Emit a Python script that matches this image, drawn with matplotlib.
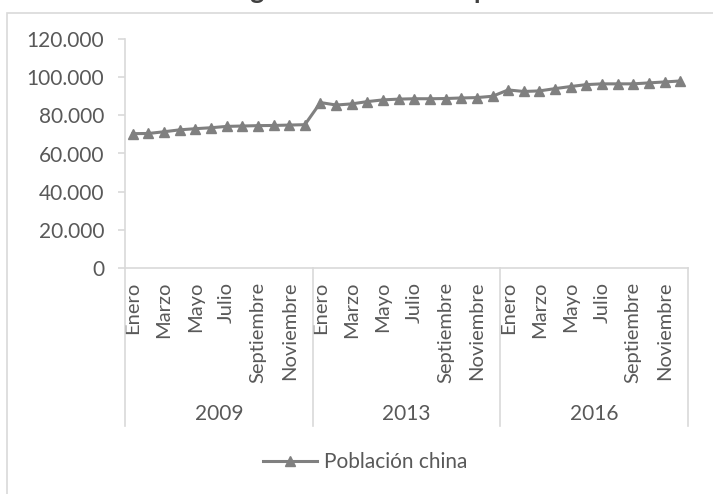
import matplotlib.pyplot as plt
import matplotlib.transforms as mtransforms
from matplotlib.patches import Rectangle

plt.rcParams['font.family'] = ['Lato', 'DejaVu Sans']

years = ['2009', '2013', '2016']
months = ['Enero', 'Febrero', 'Marzo', 'Abril', 'Mayo', 'Junio', 'Julio',
          'Agosto', 'Septiembre', 'Octubre', 'Noviembre', 'Diciembre']
pop_2009 = [70400, 70500, 71400, 72400, 73000, 73500, 74200, 74400, 74600, 74700, 74900, 75100]
pop_2013 = [86700, 85400, 86000, 87200, 88100, 88500, 88700, 88700, 88800, 89100, 89300, 90000]
pop_2016 = [93300, 92500, 92800, 94000, 95100, 96100, 96500, 96500, 96500, 97000, 97500, 98000]
series_name = 'Población china'
title = 'Inmigración china en España'

values = pop_2009 + pop_2013 + pop_2016
n = len(values)
x = [i + 0.5 for i in range(n)]

W, H = 713, 494
fig = plt.figure(figsize=(W / 100, H / 100), dpi=100)
grey_txt = '#595959'
grey_ax = '#D9D9D9'
line_col = '#808080'

# chart frame (right/bottom cropped off)
fig.patches.append(Rectangle((7 / W, -0.1), 1.2, 1 - 13 / H + 0.1, transform=fig.transFigure,
                             fill=False, edgecolor=grey_ax, linewidth=1.2))

ax = fig.add_axes([125 / W, 1 - 268 / H, (688 - 125) / W, (268 - 39) / H])
ax.plot(x, values, color=line_col, linewidth=2.2, marker='^', markersize=7,
        markeredgecolor=line_col, label=series_name)

ax.set_xlim(0, n)
ax.set_ylim(0, 120000)
ax.set_yticks(range(0, 120001, 20000))
ax.set_yticklabels([f'{v:,}'.replace(',', '.') for v in range(0, 120001, 20000)])
ax.tick_params(axis='y', length=5, width=1.2, color=grey_ax, labelcolor=grey_txt,
               labelsize=15, pad=10)

ax.set_xticks(x[::2])
ax.set_xticklabels(months[::2] * len(years), rotation=90, fontsize=14.5, color=grey_txt,
                   va='top', ha='center')
ax.tick_params(axis='x', length=0, pad=10)

for s in ['top', 'right']:
    ax.spines[s].set_visible(False)
for s in ['left', 'bottom']:
    ax.spines[s].set_color(grey_ax)
    ax.spines[s].set_linewidth(1.2)

# year groups: dividers and labels
trans = mtransforms.blended_transform_factory(ax.transData, ax.transAxes)
bottom = -(426 - 268) / (268 - 39)
year_y = -(414 - 268) / (268 - 39)
for k in range(len(years) + 1):
    xb = k * len(months)
    ax.plot([xb, xb], [0, bottom], transform=trans, color=grey_ax, linewidth=1.2, clip_on=False)
for k, yr in enumerate(years):
    ax.text((k + 0.5) * len(months), year_y, yr, transform=trans, ha='center', va='center',
            fontsize=15, color=grey_txt)

fig.legend(loc='center', bbox_to_anchor=(365 / W, 1 - 462 / H), frameon=False,
           fontsize=15, labelcolor=grey_txt, handlelength=2.6, handletextpad=0.3)

# title, mostly cropped by the top edge as in the reference
fig.text(365 / W, 1 + 1 / H, title, ha='center', va='baseline', fontsize=19,
         fontweight='bold', color='#404040')

fig.savefig('out.png', dpi=100)
